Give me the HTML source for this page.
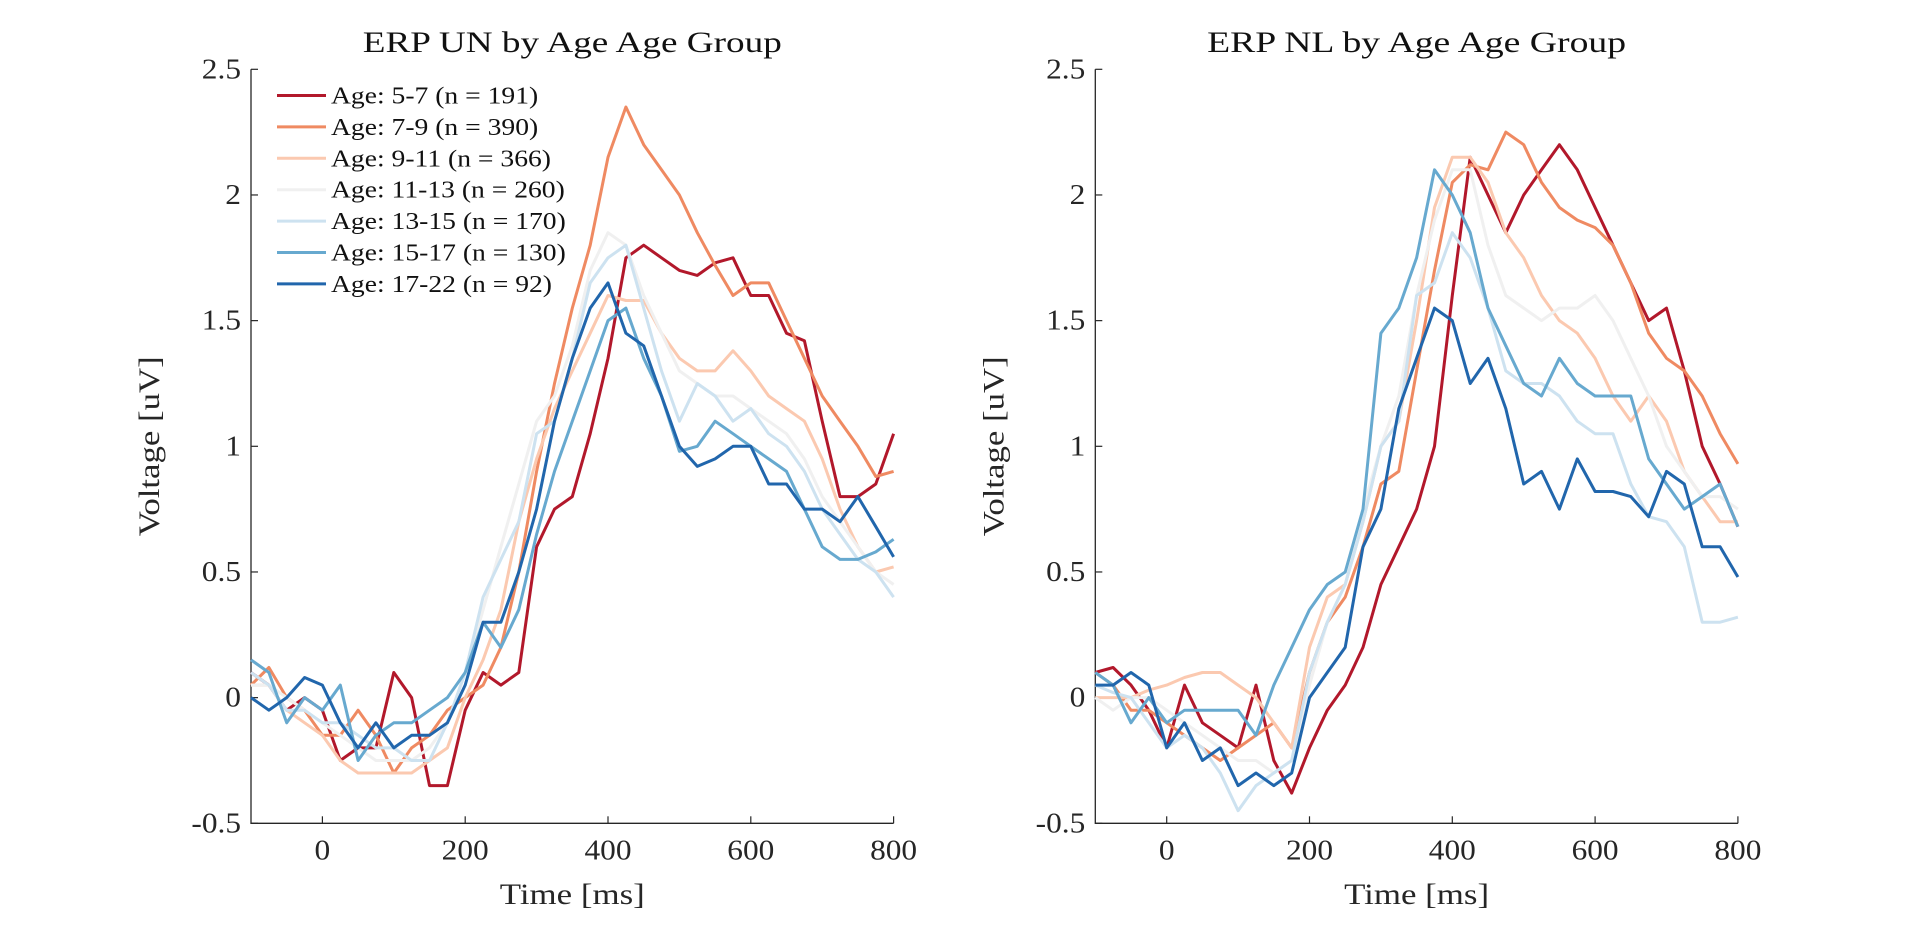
<!DOCTYPE html>
<html><head><meta charset="utf-8"><style>
html,body{margin:0;padding:0;background:#fff;}
svg{display:block;font-family:"Liberation Serif",serif;}
</style></head><body>
<svg id="fig" width="1920" height="926" viewBox="0 0 1920 926"></svg>
<script>
const times = [];
for (let t = -100; t <= 800; t += 25) times.push(t);
const groupLabels = ["Age: 5-7 (n = 191)","Age: 7-9 (n = 390)","Age: 9-11 (n = 366)","Age: 11-13 (n = 260)","Age: 13-15 (n = 170)","Age: 15-17 (n = 130)","Age: 17-22 (n = 92)"];
const xTicks = [0,200,400,600,800];
const yTicks = [-0.5,0,0.5,1,1.5,2,2.5];
const yTickLabels = ["-0.5","0","0.5","1","1.5","2","2.5"];
const colors = ["#b2182b","#ef8a62","#fbc9b0","#f0f0f0","#cde2f0","#67a9cf","#2166ac"];

const un_5_7 = [0.1,0.05,-0.05,0,-0.05,-0.25,-0.2,-0.2,0.1,0,-0.35,-0.35,-0.05,0.1,0.05,0.1,0.6,0.75,0.8,1.05,1.35,1.75,1.8,1.75,1.7,1.68,1.73,1.75,1.6,1.6,1.45,1.42,1.1,0.8,0.8,0.85,1.05];
const un_7_9 = [0.05,0.12,0,-0.05,-0.15,-0.15,-0.05,-0.15,-0.3,-0.2,-0.15,-0.05,0,0.05,0.2,0.5,0.9,1.25,1.55,1.8,2.15,2.35,2.2,2.1,2.0,1.85,1.72,1.6,1.65,1.65,1.5,1.35,1.2,1.1,1.0,0.88,0.9];
const un_9_11 = [0.05,0.05,-0.05,-0.1,-0.15,-0.25,-0.3,-0.3,-0.3,-0.3,-0.25,-0.2,0,0.15,0.35,0.7,0.95,1.15,1.3,1.45,1.6,1.58,1.58,1.45,1.35,1.3,1.3,1.38,1.3,1.2,1.15,1.1,0.95,0.75,0.6,0.5,0.52];
const un_11_13 = [0.05,0.05,0,-0.05,-0.1,-0.15,-0.2,-0.25,-0.25,-0.25,-0.2,-0.1,0.1,0.35,0.6,0.85,1.1,1.2,1.4,1.7,1.85,1.8,1.6,1.45,1.3,1.25,1.2,1.2,1.15,1.1,1.05,0.95,0.8,0.7,0.6,0.5,0.45];
const un_13_15 = [0.1,0.05,-0.05,-0.05,-0.1,-0.1,-0.15,-0.2,-0.2,-0.25,-0.25,-0.1,0.1,0.4,0.55,0.7,1.05,1.1,1.35,1.65,1.75,1.8,1.55,1.3,1.1,1.25,1.2,1.1,1.15,1.05,1.0,0.9,0.75,0.65,0.55,0.5,0.4];
const un_15_17 = [0.15,0.1,-0.1,0,-0.05,0.05,-0.25,-0.15,-0.1,-0.1,-0.05,0,0.1,0.3,0.2,0.35,0.65,0.9,1.1,1.3,1.5,1.55,1.35,1.2,0.98,1.0,1.1,1.05,1.0,0.95,0.9,0.75,0.6,0.55,0.55,0.58,0.63];
const un_17_22 = [0,-0.05,0,0.08,0.05,-0.1,-0.2,-0.1,-0.2,-0.15,-0.15,-0.1,0.05,0.3,0.3,0.5,0.75,1.1,1.35,1.55,1.65,1.45,1.4,1.2,1.0,0.92,0.95,1.0,1.0,0.85,0.85,0.75,0.75,0.7,0.8,0.68,0.56];

const nl_5_7 = [0.1,0.12,0.05,-0.05,-0.2,0.05,-0.1,-0.15,-0.2,0.05,-0.25,-0.38,-0.2,-0.05,0.05,0.2,0.45,0.6,0.75,1.0,1.6,2.15,2.0,1.85,2.0,2.1,2.2,2.1,1.95,1.8,1.65,1.5,1.55,1.3,1.0,0.85,0.68];
const nl_7_9 = [0.1,0.05,-0.05,-0.05,-0.1,-0.15,-0.2,-0.25,-0.2,-0.15,-0.1,-0.2,0.1,0.3,0.4,0.6,0.85,0.9,1.3,1.7,2.05,2.12,2.1,2.25,2.2,2.05,1.95,1.9,1.87,1.8,1.65,1.45,1.35,1.3,1.2,1.05,0.93];
const nl_9_11 = [0,0,0,0.03,0.05,0.08,0.1,0.1,0.05,0,-0.1,-0.2,0.2,0.4,0.45,0.7,1.0,1.1,1.5,1.95,2.15,2.15,2.05,1.85,1.75,1.6,1.5,1.45,1.35,1.2,1.1,1.2,1.1,0.9,0.8,0.7,0.7];
const nl_11_13 = [0,-0.05,0,0,-0.05,-0.1,-0.15,-0.2,-0.25,-0.25,-0.3,-0.25,0.05,0.3,0.45,0.75,1.0,1.2,1.6,1.9,2.1,2.1,1.8,1.6,1.55,1.5,1.55,1.55,1.6,1.5,1.35,1.2,1.0,0.9,0.8,0.8,0.75];
const nl_13_15 = [0.05,0.02,0,-0.1,-0.2,-0.15,-0.2,-0.3,-0.45,-0.35,-0.3,-0.25,0.1,0.3,0.45,0.7,1.0,1.1,1.6,1.65,1.85,1.75,1.55,1.3,1.25,1.25,1.2,1.1,1.05,1.05,0.85,0.72,0.7,0.6,0.3,0.3,0.32];
const nl_15_17 = [0.1,0.05,-0.1,0,-0.1,-0.05,-0.05,-0.05,-0.05,-0.15,0.05,0.2,0.35,0.45,0.5,0.75,1.45,1.55,1.75,2.1,2.0,1.85,1.55,1.4,1.25,1.2,1.35,1.25,1.2,1.2,1.2,0.95,0.85,0.75,0.8,0.85,0.68];
const nl_17_22 = [0.05,0.05,0.1,0.05,-0.2,-0.1,-0.25,-0.2,-0.35,-0.3,-0.35,-0.3,0,0.1,0.2,0.6,0.75,1.15,1.35,1.55,1.5,1.25,1.35,1.15,0.85,0.9,0.75,0.95,0.82,0.82,0.8,0.72,0.9,0.85,0.6,0.6,0.48];

const unSeries = [un_5_7,un_7_9,un_9_11,un_11_13,un_13_15,un_15_17,un_17_22];
const nlSeries = [nl_5_7,nl_7_9,nl_9_11,nl_11_13,nl_13_15,nl_15_17,nl_17_22];

const NS = "http://www.w3.org/2000/svg";
const svg = document.getElementById("fig");
function mk(tag, attrs, parent){const e=document.createElementNS(NS,tag);for(const k in attrs)e.setAttribute(k,attrs[k]);(parent||svg).appendChild(e);return e;}
function widen(t,k){const w=t.getComputedTextLength();if(w>0){t.setAttribute('textLength',(w*k).toFixed(1));t.setAttribute('lengthAdjust','spacingAndGlyphs');}}

function drawPanel(key, left, title, series, showLegend){
  const top=69.3, bottom=823.3, x0=left, x1=left+642.6;
  const xs = t => x0 + (t+100)/900*(x1-x0);
  const ys = v => bottom - (v+0.5)/3*(bottom-top);
  const g = mk("g",{});
  
  
  const ax = mk("path",{d:`M${x0},${top}L${x0},${bottom}L${x1},${bottom}`,fill:"none",stroke:"#262626","stroke-width":1.3},g);
  
  
  xTicks.forEach(t=>{
    mk("line",{x1:xs(t),x2:xs(t),y1:bottom,y2:bottom-7,stroke:"#262626","stroke-width":1.2},g);
    const tx=mk("text",{x:xs(t),y:bottom+36,"text-anchor":"middle","font-size":28,fill:"#262626"},g);
    tx.textContent=t;
    
    
    widen(tx,1.12);
  });
  yTicks.forEach((v,i)=>{
    mk("line",{x1:x0,x2:x0+7,y1:ys(v),y2:ys(v),stroke:"#262626","stroke-width":1.2},g);
    const tx=mk("text",{x:x0-10,y:ys(v)+9,"text-anchor":"end","font-size":28,fill:"#262626"},g);
    tx.textContent=yTickLabels[i];
    
    
    widen(tx,1.12);
  });
  series.forEach((s,i)=>{
    const d = s.map((v,j)=>(j?"L":"M")+xs(times[j]).toFixed(1)+","+ys(v).toFixed(1)).join("");
    const p=mk("path",{d:d,fill:"none",stroke:colors[i],"stroke-width":3,"stroke-linejoin":"round"},g);
    
    
  });
  const tt=mk("text",{x:(x0+x1)/2,y:52,"text-anchor":"middle","font-size":30,fill:"#111"},g);
  tt.textContent=title;
  
  
  tt.setAttribute('textLength','419');
  tt.setAttribute('lengthAdjust','spacingAndGlyphs');
  const xl=mk("text",{x:(x0+x1)/2,y:904,"text-anchor":"middle","font-size":30,fill:"#262626"},g);
  xl.textContent="Time [ms]";
  
  
  xl.setAttribute('textLength','145');
  xl.setAttribute('lengthAdjust','spacingAndGlyphs');
  const yx=x0-92, yy=(top+bottom)/2;
  const yl=mk("text",{x:yx,y:yy,"text-anchor":"middle","font-size":30,fill:"#262626",transform:`rotate(-90 ${yx} ${yy})`},g);
  yl.textContent="Voltage [uV]";
  
  
  yl.setAttribute('textLength','180');
  yl.setAttribute('lengthAdjust','spacingAndGlyphs');
  if(showLegend){
    const lg=mk("g",{},g);
    
    
    groupLabels.forEach((lab,i)=>{
      const y=95.5+i*31.4;
      const e=mk("g",{},lg);
      
      
      mk("line",{x1:277,x2:326,y1:y,y2:y,stroke:colors[i],"stroke-width":3},e);
      const t=mk("text",{x:331,y:y+8,"font-size":24,fill:"#111"},e);
      t.textContent=lab;
      widen(t,1.15);
    });
  }
}
drawPanel("un",251,"ERP UN by Age Age Group",unSeries,true);
drawPanel("nl",1095.3,"ERP NL by Age Age Group",nlSeries,false);
</script>
</body></html>
